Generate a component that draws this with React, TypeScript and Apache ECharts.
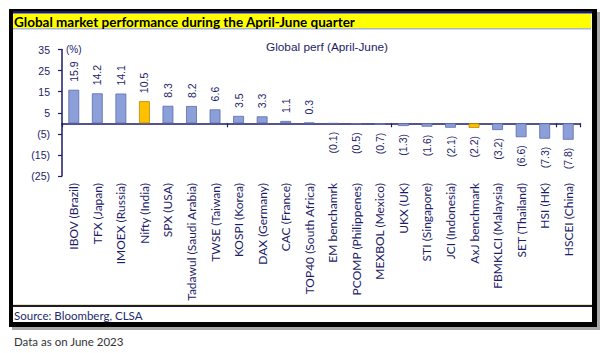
import React, { useEffect, useRef } from "react";
import * as echarts from "echarts";

const categories = [
  "IBOV (Brazil)", "TFX (Japan)", "IMOEX (Russia)", "Nifty (India)", "SPX (USA)",
  "Tadawul (Saudi Arabia)", "TWSE (Taiwan)", "KOSPI (Korea)", "DAX (Germany)", "CAC (France)",
  "TOP40 (South Africa)", "EM benchamrk", "PCOMP (Philippenes)", "MEXBOL (Mexico)", "UKX (UK)",
  "STI (Singapore)", "JCI (Indonesia)", "AxJ benchmark", "FBMKLCI (Malaysia)", "SET (Thailand)",
  "HSI (HK)", "HSCEI (China)",
];
const perf = [
  15.9, 14.2, 14.1, 10.5, 8.3, 8.2, 6.6, 3.5, 3.3, 1.1, 0.3,
  -0.1, -0.5, -0.7, -1.3, -1.6, -2.1, -2.2, -3.2, -6.6, -7.3, -7.8,
];
const highlighted = ["Nifty (India)", "AxJ benchmark"];
const yTicks = { min: -25, max: 35, interval: 10 };

const NAVY = "#1c1c68";
const BAR = "#8d9fd8";
const BAR_BORDER = "#5c6cae";
const HI = "#ffc000";
const HI_BORDER = "#b88a00";

const fmt = (v: number) => (v < 0 ? `(${Math.abs(v).toFixed(1)})` : v.toFixed(1));

export default function App() {
  const ref = useRef<HTMLDivElement>(null);
  useEffect(() => {
    if (!ref.current) return;
    const chart = echarts.init(ref.current, undefined, { renderer: "svg" });
    const data = perf.map((v, i) => {
      const hi = highlighted.includes(categories[i]);
      return {
        value: v,
        itemStyle: {
          color: hi ? HI : BAR,
          borderColor: hi ? HI_BORDER : BAR_BORDER,
          borderWidth: 0.8,
        },
        label: v >= 0
          ? { position: "top", align: "left" }
          : { position: "bottom", align: "right" },
      };
    });
    chart.setOption({
      animation: false,
      backgroundColor: "#ffffff",
      graphic: [
        { type: "rect", z: -10, shape: { x: 12, y: 12, width: 588, height: 318 }, style: { fill: "#a8a8a8" } },
        { type: "rect", z: -9, shape: { x: 9, y: 9, width: 588, height: 318 }, style: { fill: "#000000" } },
        { type: "rect", z: -8, shape: { x: 13, y: 11, width: 579, height: 311 }, style: { fill: "#ffffff" } },
        { type: "rect", z: -7, shape: { x: 13, y: 11, width: 579, height: 2.5 }, style: { fill: "#1a1a55" } },
        { type: "rect", z: -7, shape: { x: 13, y: 14, width: 578, height: 14 }, style: { fill: "#ffff00" } },
        { type: "rect", z: -7, shape: { x: 13, y: 28, width: 578, height: 1.5 }, style: { fill: "#a9b4d4" } },
        { type: "rect", z: -7, shape: { x: 13, y: 304, width: 579, height: 1 }, style: { fill: "#eee8a0" } },
        { type: "rect", z: -7, shape: { x: 13, y: 305, width: 579, height: 2 }, style: { fill: "#1a1a40" } },
        {
          type: "text", z: 5, x: 14, y: 21.5,
          style: {
            text: "Global market performance during the April-June quarter",
            fontFamily: "Lato", fontWeight: "bold", fontSize: 13.5, fill: "#000000",
            verticalAlign: "middle",
          },
        },
        {
          type: "text", z: 5, x: 14, y: 315,
          style: {
            text: "Source: Bloomberg, CLSA",
            fontFamily: "Lato", fontSize: 11.5, fill: "#1f2a70", verticalAlign: "middle",
          },
        },
        {
          type: "text", z: 5, x: 14, y: 341,
          style: {
            text: "Data as on June 2023",
            fontFamily: "Lato", fontSize: 11.5, fill: "#333333", verticalAlign: "middle",
          },
        },
      ],
      title: {
        text: "Global perf (April-June)",
        left: 266,
        top: 41,
        padding: 0,
        textStyle: { fontFamily: "Liberation Sans", fontSize: 11.8, fontWeight: "normal", color: NAVY },
      },
      grid: { left: 62, right: 29, top: 49.5, bottom: 177, containLabel: false },
      xAxis: [
        {
          type: "category",
          data: categories,
          axisLine: { onZero: true, lineStyle: { color: NAVY, width: 1.5 } },
          axisTick: { show: true, length: 4, alignWithLabel: false, lineStyle: { color: NAVY, width: 1.2 } },
          axisLabel: { show: false },
        },
        {
          type: "category",
          data: categories,
          position: "bottom",
          axisLine: { show: false, onZero: false },
          axisTick: { show: false },
          axisLabel: {
            rotate: 90,
            margin: 7,
            interval: 0,
            fontFamily: "Lato",
            fontSize: 12,
            color: NAVY,
          },
        },
      ],
      yAxis: {
        type: "value",
        min: yTicks.min,
        max: yTicks.max,
        interval: yTicks.interval,
        name: "(%)",
        nameLocation: "end",
        nameGap: 0,
        nameTextStyle: {
          fontFamily: "Liberation Sans", fontSize: 10, color: NAVY,
          align: "left", verticalAlign: "middle", padding: [0, 0, 0, 4],
        },
        splitLine: { show: false },
        axisLine: { show: true, onZero: false, lineStyle: { color: NAVY, width: 1.5 } },
        axisTick: { show: true, length: 4, lineStyle: { color: NAVY, width: 1.2 } },
        axisLabel: {
          margin: 12,
          fontFamily: "Liberation Sans",
          fontSize: 10.5,
          color: NAVY,
          formatter: (v: number) => (v < 0 ? `(${-v})` : `${v}`),
        },
      },
      series: [
        {
          type: "bar",
          xAxisIndex: 0,
          data,
          barWidth: "46%",
          label: {
            show: true,
            rotate: 90,
            distance: 8,
            verticalAlign: "middle",
            fontFamily: "Liberation Sans",
            fontSize: 10.5,
            color: NAVY,
            formatter: (p: any) => fmt(p.value),
          },
        },
      ],
    });
    return () => chart.dispose();
  }, []);
  return (
    <div
      ref={ref}
      style={{ position: "fixed", left: 0, top: 0, width: 609, height: 353 }}
    />
  );
}
